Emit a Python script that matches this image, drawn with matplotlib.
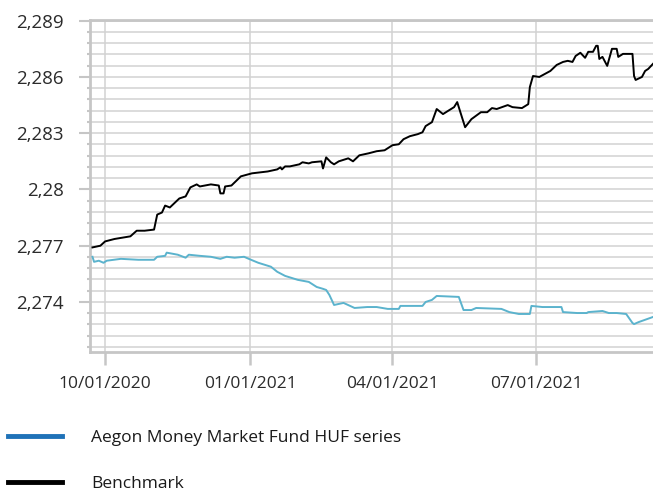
import matplotlib
matplotlib.use('Agg')
import matplotlib.pyplot as plt
import matplotlib.dates as mdates
from matplotlib.ticker import MultipleLocator, FuncFormatter
from matplotlib.lines import Line2D
import pandas as pd

plt.rcParams['font.family'] = ['Open Sans', 'DejaVu Sans']

# ── data ──────────────────────────────────────────────────────
bench_dates = [
    '2020-09-23', '2020-09-28', '2020-10-01', '2020-10-07', '2020-10-17', '2020-10-21',
    '2020-10-26', '2020-11-01', '2020-11-03', '2020-11-06', '2020-11-08', '2020-11-11',
    '2020-11-17', '2020-11-21', '2020-11-24', '2020-11-28', '2020-11-30', '2020-12-07',
    '2020-12-12', '2020-12-13', '2020-12-15', '2020-12-16', '2020-12-20', '2020-12-26',
    '2021-01-02', '2021-01-12', '2021-01-18', '2021-01-20', '2021-01-21', '2021-01-23',
    '2021-01-26', '2021-02-01', '2021-02-03', '2021-02-07', '2021-02-09', '2021-02-15',
    '2021-02-16', '2021-02-18', '2021-02-21', '2021-02-23', '2021-02-26', '2021-03-04',
    '2021-03-07', '2021-03-11', '2021-03-17', '2021-03-22', '2021-03-27', '2021-04-01',
    '2021-04-05', '2021-04-08', '2021-04-12', '2021-04-17', '2021-04-20', '2021-04-22',
    '2021-04-26', '2021-04-29', '2021-05-03', '2021-05-06', '2021-05-10', '2021-05-12',
    '2021-05-14', '2021-05-17', '2021-05-21', '2021-05-27', '2021-05-31', '2021-06-03',
    '2021-06-06', '2021-06-13', '2021-06-16', '2021-06-22', '2021-06-26', '2021-06-27',
    '2021-06-29', '2021-07-03', '2021-07-10', '2021-07-14', '2021-07-18', '2021-07-21',
    '2021-07-24', '2021-07-26', '2021-07-29', '2021-08-01', '2021-08-03', '2021-08-06',
    '2021-08-08', '2021-08-09', '2021-08-10', '2021-08-12', '2021-08-15', '2021-08-18',
    '2021-08-21', '2021-08-22', '2021-08-25', '2021-08-31', '2021-09-01', '2021-09-02',
    '2021-09-06', '2021-09-08', '2021-09-10', '2021-09-13',
]
bench_values = [
    2.27691, 2.27700, 2.27723, 2.27736, 2.27750, 2.27780,
    2.27780, 2.27786, 2.27866, 2.27877, 2.27914, 2.27904,
    2.27952, 2.27963, 2.28011, 2.28027, 2.28016, 2.28027,
    2.28021, 2.27979, 2.27979, 2.28016, 2.28021, 2.28070,
    2.28086, 2.28096, 2.28107, 2.28118, 2.28107, 2.28123,
    2.28123, 2.28134, 2.28145, 2.28139, 2.28145, 2.28150,
    2.28112, 2.28171, 2.28145, 2.28134, 2.28150, 2.28166,
    2.28150, 2.28182, 2.28193, 2.28204, 2.28209, 2.28236,
    2.28241, 2.28268, 2.28284, 2.28295, 2.28305, 2.28338,
    2.28359, 2.28429, 2.28402, 2.28418, 2.28439, 2.28466,
    2.28412, 2.28332, 2.28375, 2.28412, 2.28412, 2.28434,
    2.28429, 2.28450, 2.28439, 2.28434, 2.28455, 2.28546,
    2.28605, 2.28600, 2.28632, 2.28664, 2.28680, 2.28686,
    2.28680, 2.28712, 2.28729, 2.28702, 2.28734, 2.28734,
    2.28766, 2.28766, 2.28696, 2.28707, 2.28659, 2.28750,
    2.28750, 2.28707, 2.28723, 2.28723, 2.28605, 2.28584,
    2.28600, 2.28632, 2.28643, 2.28670,
]

fund_dates = [
    '2020-09-23', '2020-09-24', '2020-09-27', '2020-09-30', '2020-10-02', '2020-10-11',
    '2020-10-22', '2020-11-01', '2020-11-03', '2020-11-08', '2020-11-09', '2020-11-16',
    '2020-11-21', '2020-11-23', '2020-11-30', '2020-12-07', '2020-12-13', '2020-12-17',
    '2020-12-22', '2020-12-28', '2020-12-31', '2021-01-06', '2021-01-14', '2021-01-18',
    '2021-01-23', '2021-01-31', '2021-02-07', '2021-02-12', '2021-02-16', '2021-02-18',
    '2021-02-20', '2021-02-23', '2021-03-01', '2021-03-08', '2021-03-16', '2021-03-22',
    '2021-03-29', '2021-04-05', '2021-04-06', '2021-04-20', '2021-04-22', '2021-04-26',
    '2021-04-29', '2021-05-13', '2021-05-16', '2021-05-21', '2021-05-24', '2021-06-09',
    '2021-06-14', '2021-06-20', '2021-06-27', '2021-06-28', '2021-07-05', '2021-07-17',
    '2021-07-18', '2021-07-27', '2021-08-02', '2021-08-03', '2021-08-12', '2021-08-16',
    '2021-08-21', '2021-08-27', '2021-08-31', '2021-09-01', '2021-09-04', '2021-09-13',
]
fund_values = [
    2.27641, 2.27614, 2.27620, 2.27609, 2.27620, 2.27630,
    2.27625, 2.27625, 2.27641, 2.27646, 2.27663, 2.27652,
    2.27636, 2.27652, 2.27646, 2.27641, 2.27630, 2.27641,
    2.27636, 2.27641, 2.27630, 2.27609, 2.27588, 2.27561,
    2.27539, 2.27518, 2.27507, 2.27480, 2.27470, 2.27464,
    2.27438, 2.27384, 2.27395, 2.27368, 2.27373, 2.27373,
    2.27363, 2.27363, 2.27379, 2.27379, 2.27400, 2.27411,
    2.27432, 2.27427, 2.27357, 2.27357, 2.27368, 2.27363,
    2.27346, 2.27336, 2.27336, 2.27379, 2.27373, 2.27373,
    2.27346, 2.27341, 2.27341, 2.27346, 2.27352, 2.27341,
    2.27341, 2.27336, 2.27288, 2.27282, 2.27293, 2.27320,
]

labels = ['Aegon Money Market Fund HUF series', 'Benchmark']

GRID = '#d2d2d2'
SPINE = '#c6c6c6'
FUND = '#5bb3cd'

fig = plt.figure(figsize=(6.53, 4.94), dpi=100)
ax = fig.add_axes([0.138, 0.287, 0.862, 0.673])

ax.plot(pd.to_datetime(fund_dates), fund_values, color=FUND, lw=1.4, zorder=3)
ax.plot(pd.to_datetime(bench_dates), bench_values, color='black', lw=1.4, zorder=4)

ax.set_xlim(pd.Timestamp('2020-09-21 12:00'), pd.Timestamp('2021-09-13'))
ax.set_ylim(2.27132, 2.28905)

ax.yaxis.set_major_locator(MultipleLocator(0.003))
ax.yaxis.set_minor_locator(MultipleLocator(0.0006))
ax.yaxis.set_major_formatter(FuncFormatter(
    lambda v, p: f'{v:.3f}'.rstrip('0').replace('.', ',')))
ax.xaxis.set_major_locator(mdates.MonthLocator(bymonth=[1, 4, 7, 10]))
ax.xaxis.set_major_formatter(mdates.DateFormatter('%m/%d/%Y'))

ax.grid(True, which='both', axis='y', color=GRID, lw=1.1, zorder=0)
ax.grid(True, which='major', axis='x', color=GRID, lw=1.1, zorder=0)
ax.set_axisbelow(True)

ax.spines['right'].set_visible(False)
for s in ['left', 'bottom', 'top']:
    ax.spines[s].set_color(SPINE)
    ax.spines[s].set_linewidth(2)

ax.tick_params(axis='y', which='major', length=8, width=1.5, color=SPINE,
               labelsize=13.5, labelcolor='#2b2b2b', pad=11)
ax.tick_params(axis='y', which='minor', length=2, width=1.5, color=SPINE)
ax.tick_params(axis='x', which='major', length=9, width=1.8, color=SPINE,
               labelsize=12.5, labelcolor='#2b2b2b', pad=8)

handles = [Line2D([], [], color='#1f72b8', lw=3.5),
           Line2D([], [], color='black', lw=3.5)]
fig.legend(handles, labels, loc='upper left', bbox_to_anchor=(0.012, 0.13),
           frameon=False, fontsize=12.5, handlelength=3.1, handletextpad=1.7,
           labelspacing=1.75, borderpad=0, borderaxespad=0,
           labelcolor='#1a1a1a')

plt.savefig('out.png', dpi=100)
